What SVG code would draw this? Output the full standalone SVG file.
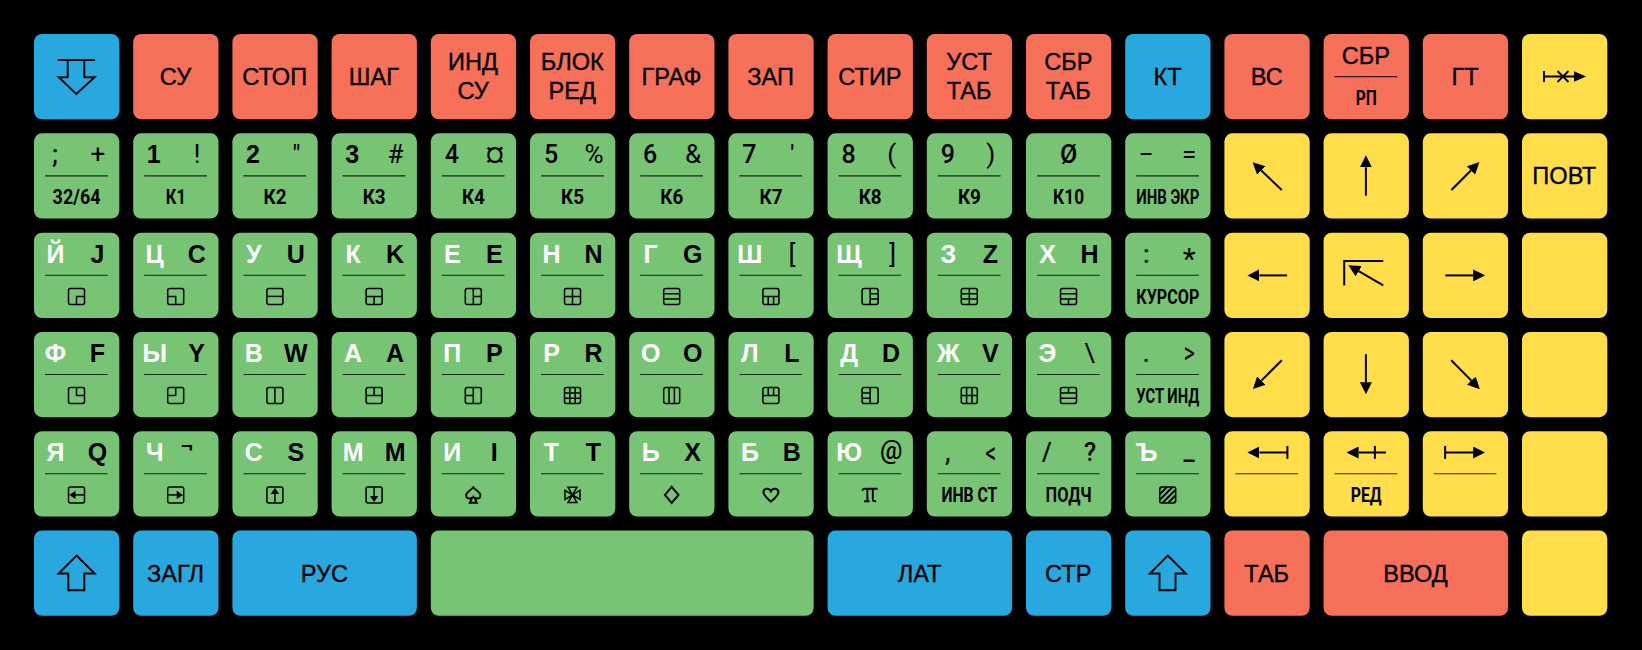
<svg xmlns="http://www.w3.org/2000/svg" width="1642" height="650" viewBox="0 0 1642 650">
<style>
text{text-anchor:middle;fill:#000}
.t{font:23.6px "Liberation Sans",Arial,sans-serif;stroke:#000;stroke-width:.35}
.l{font:700 25px "Liberation Sans",Arial,sans-serif}
.w{fill:#fff}
.d{font:500 25px Roboto,"Liberation Sans",sans-serif}
.s{font:400 26px Roboto,"Liberation Sans",sans-serif}
.v{font:400 30px Roboto,"Liberation Sans",sans-serif}
.c{font:700 19.5px Roboto,"Liberation Sans",sans-serif}
.B{fill:#29a8e0}.R{fill:#f6705a}.G{fill:#78c475}.Y{fill:#ffdd4b}
.i{fill:none;stroke:#000;stroke-width:1.5}
.j{fill:none;stroke:#000;stroke-width:1.9}
.a{fill:none;stroke:#000;stroke-width:2}
.h{marker-end:url(#head)}
</style>
<defs>
<marker id="head" markerUnits="userSpaceOnUse" markerWidth="12" markerHeight="12" refX="0" refY="6" orient="auto" viewBox="0 0 12 12"><path d="M0 0L12 6L0 12Z"/></marker>
<pattern id="hatch" patternUnits="userSpaceOnUse" width="4" height="4" patternTransform="rotate(45)"><rect width="2" height="4"/></pattern>
<rect id="kb" width="85.3" height="85.3" rx="8" class="B"/>
<rect id="kr" width="85.3" height="85.3" rx="8" class="R"/>
<rect id="kg" width="85.3" height="85.3" rx="8" class="G"/>
<rect id="ky" width="85.3" height="85.3" rx="8" class="Y"/>
<path id="dv" d="M11 42.6H73.7" fill="none" stroke="#000" stroke-opacity=".8" stroke-width="1.1"/>
<rect id="bx" x="34.5" y="55.7" width="16" height="16" rx="2" class="i"/>
<path id="up" class="j" d="M42.6 25L60.7 43H50.3V59.7H34.3V43H24.7Z"/>
</defs>
<rect width="1642" height="650" fill="#000"/>

<g id="row1">
<g id="k-down" transform="translate(34,34)"><use href="#kb"/><path class="j" d="M23.7 26H61M33.7 26V43.3H24.7L42.3 60L60.7 43.3H50.3V26"/></g>
<g id="k-su" transform="translate(133.2,34)"><use href="#kr"/><text class="t" x="42.3" y="51">СУ</text></g>
<g id="k-stop" transform="translate(232.4,34)"><use href="#kr"/><text class="t" x="42.3" y="51">СТОП</text></g>
<g id="k-shag" transform="translate(331.6,34)"><use href="#kr"/><text class="t" x="42.3" y="51">ШАГ</text></g>
<g id="k-indsu" transform="translate(430.8,34)"><use href="#kr"/><text class="t" x="42.3" y="36">ИНД</text><text class="t" x="42.3" y="65">СУ</text></g>
<g id="k-blok" transform="translate(530,34)"><use href="#kr"/><text class="t" x="42.3" y="36">БЛОК</text><text class="t" x="42.3" y="65">РЕД</text></g>
<g id="k-graf" transform="translate(629.2,34)"><use href="#kr"/><text class="t" x="42.3" y="51">ГРАФ</text></g>
<g id="k-zap" transform="translate(728.4,34)"><use href="#kr"/><text class="t" x="42.3" y="51">ЗАП</text></g>
<g id="k-stir" transform="translate(827.6,34)"><use href="#kr"/><text class="t" x="42.3" y="51">СТИР</text></g>
<g id="k-usttab" transform="translate(926.8,34)"><use href="#kr"/><text class="t" x="42.3" y="36">УСТ</text><text class="t" x="42.3" y="65">ТАБ</text></g>
<g id="k-sbrtab" transform="translate(1026,34)"><use href="#kr"/><text class="t" x="42.3" y="36">СБР</text><text class="t" x="42.3" y="65">ТАБ</text></g>
<g id="k-kt" transform="translate(1125.2,34)"><use href="#kb"/><text class="t" x="42.3" y="51">КТ</text></g>
<g id="k-vs" transform="translate(1224.4,34)"><use href="#kr"/><text class="t" x="42.3" y="51">ВС</text></g>
<g id="k-sbrrp" transform="translate(1323.6,34)"><use href="#kr"/><text class="t" x="42.3" y="30">СБР</text><use href="#dv"/><text class="c" x="42.6" y="71" textLength="21" lengthAdjust="spacingAndGlyphs">РП</text></g>
<g id="k-gt" transform="translate(1422.8,34)"><use href="#kr"/><text class="t" x="42.3" y="51">ГТ</text></g>
<g id="k-tabset" transform="translate(1522,34)"><use href="#ky"/><path class="j" d="M22 37V48M22 42.5H54M35.5 37L46.5 48M46.5 37L35.5 48"/><path d="M52 37.3L64 42.5L52 47.7Z"/></g>
</g>

<g id="row2">
<g id="k-semi" transform="translate(34,133.3)"><use href="#kg"/><text class="d" x="21" y="30">;</text><text class="s" x="64" y="30">+</text><use href="#dv"/><text class="c" x="42.6" y="71" textLength="48" lengthAdjust="spacingAndGlyphs">32/64</text></g>
<g id="k-1" transform="translate(133.2,133.3)"><use href="#kg"/><text class="l" x="20.5" y="30">1</text><text class="s" x="64" y="30">!</text><use href="#dv"/><text class="c" x="42.6" y="71" textLength="20" lengthAdjust="spacingAndGlyphs">К1</text></g>
<g id="k-2" transform="translate(232.4,133.3)"><use href="#kg"/><text class="l" x="20.5" y="30">2</text><text class="s" x="64" y="30" font-style="italic">″</text><use href="#dv"/><text class="c" x="42.6" y="71" textLength="23" lengthAdjust="spacingAndGlyphs">К2</text></g>
<g id="k-3" transform="translate(331.6,133.3)"><use href="#kg"/><text class="l" x="20.5" y="30">3</text><text class="s" x="64" y="30">#</text><use href="#dv"/><text class="c" x="42.6" y="71" textLength="23" lengthAdjust="spacingAndGlyphs">К3</text></g>
<g id="k-4" transform="translate(430.8,133.3)"><use href="#kg"/><text class="d" x="21" y="30">4</text><text class="s" x="64" y="30">¤</text><use href="#dv"/><text class="c" x="42.6" y="71" textLength="23" lengthAdjust="spacingAndGlyphs">К4</text></g>
<g id="k-5" transform="translate(530,133.3)"><use href="#kg"/><text class="d" x="21" y="30">5</text><text class="s" x="64" y="30">%</text><use href="#dv"/><text class="c" x="42.6" y="71" textLength="23" lengthAdjust="spacingAndGlyphs">К5</text></g>
<g id="k-6" transform="translate(629.2,133.3)"><use href="#kg"/><text class="d" x="21" y="30">6</text><text class="s" x="64" y="30">&amp;</text><use href="#dv"/><text class="c" x="42.6" y="71" textLength="23" lengthAdjust="spacingAndGlyphs">К6</text></g>
<g id="k-7" transform="translate(728.4,133.3)"><use href="#kg"/><text class="d" x="21" y="30">7</text><text class="s" x="64" y="30" font-style="italic">′</text><use href="#dv"/><text class="c" x="42.6" y="71" textLength="23" lengthAdjust="spacingAndGlyphs">К7</text></g>
<g id="k-8" transform="translate(827.6,133.3)"><use href="#kg"/><text class="d" x="21" y="30">8</text><text class="s" x="64" y="30">(</text><use href="#dv"/><text class="c" x="42.6" y="71" textLength="23" lengthAdjust="spacingAndGlyphs">К8</text></g>
<g id="k-9" transform="translate(926.8,133.3)"><use href="#kg"/><text class="d" x="21" y="30">9</text><text class="s" x="64" y="30">)</text><use href="#dv"/><text class="c" x="42.6" y="71" textLength="23" lengthAdjust="spacingAndGlyphs">К9</text></g>
<g id="k-0" transform="translate(1026,133.3)"><use href="#kg"/><text class="d" x="42.6" y="30">Ø</text><use href="#dv"/><text class="c" x="42.6" y="71" textLength="31" lengthAdjust="spacingAndGlyphs">К10</text></g>
<g id="k-minus" transform="translate(1125.2,133.3)"><use href="#kg"/><text class="s" x="21" y="30">−</text><text class="s" x="64" y="30">=</text><use href="#dv"/><text class="c" x="42.6" y="71" textLength="63" lengthAdjust="spacingAndGlyphs">ИНВ ЭКР</text></g>
<g id="k-nw" transform="translate(1224.4,133.3)"><use href="#ky"/><path class="a h" d="M57.4 56.7L36.9 37.2"/></g>
<g id="k-n" transform="translate(1323.6,133.3)"><use href="#ky"/><path class="a h" d="M42.3 62.4V34"/></g>
<g id="k-ne" transform="translate(1422.8,133.3)"><use href="#ky"/><path class="a h" d="M28.6 56.7L48.1 37.2"/></g>
<g id="k-povt" transform="translate(1522,133.3)"><use href="#ky"/><text class="t" x="42.3" y="51">ПОВТ</text></g>
</g>

<g id="row3">
<g id="k-j" transform="translate(34,232.7)"><use href="#kg"/><text class="l w" x="21.5" y="30.5">Й</text><text class="l" x="63.5" y="30.5">J</text><use href="#dv"/><use href="#bx"/><path class="i" d="M42.5 71.7V63.7H50.5"/></g>
<g id="k-c" transform="translate(133.2,232.7)"><use href="#kg"/><text class="l w" x="21.5" y="30.5">Ц</text><text class="l" x="63.5" y="30.5">C</text><use href="#dv"/><use href="#bx"/><path class="i" d="M42.5 71.7V63.7H34.5"/></g>
<g id="k-u" transform="translate(232.4,232.7)"><use href="#kg"/><text class="l w" x="21.5" y="30.5">У</text><text class="l" x="63.5" y="30.5">U</text><use href="#dv"/><use href="#bx"/><path class="i" d="M34.5 63.7H50.5"/></g>
<g id="k-k" transform="translate(331.6,232.7)"><use href="#kg"/><text class="l w" x="21.5" y="30.5">К</text><text class="l" x="63.5" y="30.5">K</text><use href="#dv"/><use href="#bx"/><path class="i" d="M34.5 63.7H50.5M42.5 63.7V71.7"/></g>
<g id="k-e" transform="translate(430.8,232.7)"><use href="#kg"/><text class="l w" x="21.5" y="30.5">Е</text><text class="l" x="63.5" y="30.5">E</text><use href="#dv"/><use href="#bx"/><path class="i" d="M42.5 55.7V71.7M42.5 63.7H50.5"/></g>
<g id="k-n2" transform="translate(530,232.7)"><use href="#kg"/><text class="l w" x="21.5" y="30.5">Н</text><text class="l" x="63.5" y="30.5">N</text><use href="#dv"/><use href="#bx"/><path class="i" d="M34.5 63.7H50.5M42.5 55.7V71.7"/></g>
<g id="k-g" transform="translate(629.2,232.7)"><use href="#kg"/><text class="l w" x="21.5" y="30.5">Г</text><text class="l" x="63.5" y="30.5">G</text><use href="#dv"/><use href="#bx"/><path class="i" d="M34.5 61H50.5M34.5 66.4H50.5"/></g>
<g id="k-lb" transform="translate(728.4,232.7)"><use href="#kg"/><text class="l w" x="21.5" y="30.5">Ш</text><text class="s" x="63.5" y="30.5">[</text><use href="#dv"/><use href="#bx"/><path class="i" d="M34.5 63.7H50.5M39.8 63.7V71.7M45.2 63.7V71.7"/></g>
<g id="k-rb" transform="translate(827.6,232.7)"><use href="#kg"/><text class="l w" x="21.5" y="30.5">Щ</text><text class="s" x="65" y="30.5">]</text><use href="#dv"/><use href="#bx"/><path class="i" d="M42.5 55.7V71.7M42.5 61H50.5M42.5 66.4H50.5"/></g>
<g id="k-z" transform="translate(926.8,232.7)"><use href="#kg"/><text class="l w" x="21.5" y="30.5">З</text><text class="l" x="63.5" y="30.5">Z</text><use href="#dv"/><use href="#bx"/><path class="i" d="M34.5 61H50.5M34.5 66.4H50.5M42.5 55.7V71.7"/></g>
<g id="k-h" transform="translate(1026,232.7)"><use href="#kg"/><text class="l w" x="21.5" y="30.5">Х</text><text class="l" x="63.5" y="30.5">H</text><use href="#dv"/><use href="#bx"/><path class="i" d="M34.5 61H50.5M34.5 66.4H50.5M42.5 66.4V71.7"/></g>
<g id="k-colon" transform="translate(1125.2,232.7)"><use href="#kg"/><text class="d" x="21" y="30">:</text><text class="v" x="64" y="36">*</text><use href="#dv"/><text class="c" x="42.6" y="71" textLength="63" lengthAdjust="spacingAndGlyphs">КУРСОР</text></g>
<g id="k-w" transform="translate(1224.4,232.7)"><use href="#ky"/><path class="a h" d="M62.7 42.7H35"/></g>
<g id="k-home" transform="translate(1323.6,232.7)"><use href="#ky"/><path class="a" d="M20.6 52.7V28.4H59.6"/><path d="M59.6 52.7L35.1 38.5" class="a h"/></g>
<g id="k-e2" transform="translate(1422.8,232.7)"><use href="#ky"/><path class="a h" d="M22.6 42.7H50.3"/></g>
<g id="k-y3" transform="translate(1522,232.7)"><use href="#ky"/></g>
</g>

<g id="row4">
<g id="k-f" transform="translate(34,331.9)"><use href="#kg"/><text class="l w" x="21.5" y="30.5">Ф</text><text class="l" x="63.5" y="30.5">F</text><use href="#dv"/><use href="#bx"/><path class="i" d="M42.5 55.7V63.7H50.5"/></g>
<g id="k-y" transform="translate(133.2,331.9)"><use href="#kg"/><text class="l w" x="21.5" y="30.5">Ы</text><text class="l" x="63.5" y="30.5">Y</text><use href="#dv"/><use href="#bx"/><path class="i" d="M42.5 55.7V63.7H34.5"/></g>
<g id="k-w2" transform="translate(232.4,331.9)"><use href="#kg"/><text class="l w" x="21.5" y="30.5">В</text><text class="l" x="63.5" y="30.5">W</text><use href="#dv"/><use href="#bx"/><path class="i" d="M42.5 55.7V71.7"/></g>
<g id="k-a" transform="translate(331.6,331.9)"><use href="#kg"/><text class="l w" x="21.5" y="30.5">А</text><text class="l" x="63.5" y="30.5">A</text><use href="#dv"/><use href="#bx"/><path class="i" d="M34.5 63.7H50.5M42.5 55.7V63.7"/></g>
<g id="k-p" transform="translate(430.8,331.9)"><use href="#kg"/><text class="l w" x="21.5" y="30.5">П</text><text class="l" x="63.5" y="30.5">P</text><use href="#dv"/><use href="#bx"/><path class="i" d="M42.5 55.7V71.7M34.5 63.7H42.5"/></g>
<g id="k-r" transform="translate(530,331.9)"><use href="#kg"/><text class="l w" x="21.5" y="30.5">Р</text><text class="l" x="63.5" y="30.5">R</text><use href="#dv"/><use href="#bx"/><path class="i" d="M34.5 61H50.5M34.5 66.4H50.5M39.8 55.7V71.7M45.2 55.7V71.7"/></g>
<g id="k-o" transform="translate(629.2,331.9)"><use href="#kg"/><text class="l w" x="21.5" y="30.5">О</text><text class="l" x="63.5" y="30.5">O</text><use href="#dv"/><use href="#bx"/><path class="i" d="M39.8 55.7V71.7M45.2 55.7V71.7"/></g>
<g id="k-l" transform="translate(728.4,331.9)"><use href="#kg"/><text class="l w" x="21.5" y="30.5">Л</text><text class="l" x="63.5" y="30.5">L</text><use href="#dv"/><use href="#bx"/><path class="i" d="M34.5 63.7H50.5M39.8 55.7V63.7M45.2 55.7V63.7"/></g>
<g id="k-d" transform="translate(827.6,331.9)"><use href="#kg"/><text class="l w" x="21.5" y="30.5">Д</text><text class="l" x="63.5" y="30.5">D</text><use href="#dv"/><use href="#bx"/><path class="i" d="M42.5 55.7V71.7M34.5 61H42.5M34.5 66.4H42.5"/></g>
<g id="k-v" transform="translate(926.8,331.9)"><use href="#kg"/><text class="l w" x="21.5" y="30.5">Ж</text><text class="l" x="63.5" y="30.5">V</text><use href="#dv"/><use href="#bx"/><path class="i" d="M39.8 55.7V71.7M45.2 55.7V71.7M34.5 63.7H50.5"/></g>
<g id="k-bs" transform="translate(1026,331.9)"><use href="#kg"/><text class="l w" x="21.5" y="30.5">Э</text><text class="s" x="63.5" y="30.5">\</text><use href="#dv"/><use href="#bx"/><path class="i" d="M34.5 61H50.5M34.5 66.4H50.5M42.5 55.7V61"/></g>
<g id="k-dot" transform="translate(1125.2,331.9)"><use href="#kg"/><text class="d" x="21" y="30">.</text><text class="v" x="64" y="31.5" textLength="11" lengthAdjust="spacingAndGlyphs">&gt;</text><use href="#dv"/><text class="c" x="42.6" y="71" textLength="63" lengthAdjust="spacingAndGlyphs">УСТ ИНД</text></g>
<g id="k-sw" transform="translate(1224.4,331.9)"><use href="#ky"/><path class="a h" d="M57.4 28.3L37 48.7"/></g>
<g id="k-s" transform="translate(1323.6,331.9)"><use href="#ky"/><path class="a h" d="M42.3 22.3V50.3"/></g>
<g id="k-se" transform="translate(1422.8,331.9)"><use href="#ky"/><path class="a h" d="M28.4 28.3L48.6 48.7"/></g>
<g id="k-y4" transform="translate(1522,331.9)"><use href="#ky"/></g>
</g>

<g id="row5">
<g id="k-q" transform="translate(34,431.2)"><use href="#kg"/><text class="l w" x="21.5" y="30">Я</text><text class="l" x="63.5" y="30">Q</text><use href="#dv"/><use href="#bx"/><path class="i" d="M38 63.7H50.5"/><path d="M35.3 63.7L41.5 59.5V67.9Z"/></g>
<g id="k-not" transform="translate(133.2,431.2)"><use href="#kg"/><text class="l w" x="21.5" y="30">Ч</text><text class="d" x="54" y="24">¬</text><use href="#dv"/><use href="#bx"/><path class="i" d="M34.5 63.7H47"/><path d="M49.7 63.7L43.5 59.5V67.9Z"/></g>
<g id="k-s2" transform="translate(232.4,431.2)"><use href="#kg"/><text class="l w" x="21.5" y="30">С</text><text class="l" x="63.5" y="30">S</text><use href="#dv"/><use href="#bx"/><path class="i" d="M42.5 59V71.7"/><path d="M42.5 56.5L38.3 62.7H46.7Z"/></g>
<g id="k-m" transform="translate(331.6,431.2)"><use href="#kg"/><text class="l w" x="21.5" y="30">М</text><text class="l" x="63.5" y="30">M</text><use href="#dv"/><use href="#bx"/><path class="i" d="M42.5 55.7V68"/><path d="M42.5 70.9L38.3 64.7H46.7Z"/></g>
<g id="k-i" transform="translate(430.8,431.2)"><use href="#kg"/><text class="l w" x="21.5" y="30">И</text><text class="l" x="63.5" y="30">I</text><use href="#dv"/><path class="j" d="M42.5 56C39.5 60 35.3 60.8 35.3 64.5C35.3 67.2 38.5 68.2 41.5 66.5L39 71.5H46L43.5 66.5C46.5 68.2 49.7 67.2 49.7 64.5C49.7 60.8 45.5 60 42.5 56Z"/></g>
<g id="k-t" transform="translate(530,431.2)"><use href="#kg"/><text class="l w" x="21.5" y="30">Т</text><text class="l" x="63.5" y="30">T</text><use href="#dv"/><path class="i" d="M38 56H47L42.5 63.7ZM38 71.4H47L42.5 63.7ZM35 59.2V68.2L42.5 63.7ZM50 59.2V68.2L42.5 63.7Z"/></g>
<g id="k-x" transform="translate(629.2,431.2)"><use href="#kg"/><text class="l w" x="21.5" y="30">Ь</text><text class="l" x="63.5" y="30">X</text><use href="#dv"/><path class="a" d="M42.5 55.7L49.3 63.7L42.5 71.7L35.7 63.7Z"/></g>
<g id="k-b" transform="translate(728.4,431.2)"><use href="#kg"/><text class="l w" x="21.5" y="30">Б</text><text class="l" x="63.5" y="30">B</text><use href="#dv"/><path class="a" d="M42.5 70.5C38 66.5 35 64 35 61C35 57 40.5 56 42.5 60C44.5 56 50 57 50 61C50 64 47 66.5 42.5 70.5Z"/></g>
<g id="k-at" transform="translate(827.6,431.2)"><use href="#kg"/><text class="d" x="21.5" y="30" fill="#fff" style="fill:#fff;font-weight:700;font-family:'Liberation Sans'">Ю</text><text class="d" x="63.5" y="28">@</text><use href="#dv"/><path class="j" d="M35 59.5C35 57.5 36 57.5 38 57.5H50M39.8 57.5V70M45.2 57.5V68C45.2 70 46 70 48.5 70M36.5 70H42"/></g>
<g id="k-comma" transform="translate(926.8,431.2)"><use href="#kg"/><text class="d" x="21" y="30">,</text><text class="v" x="64" y="31.5" textLength="11" lengthAdjust="spacingAndGlyphs">&lt;</text><use href="#dv"/><text class="c" x="42.6" y="71" textLength="56" lengthAdjust="spacingAndGlyphs">ИНВ СТ</text></g>
<g id="k-slash" transform="translate(1026,431.2)"><use href="#kg"/><text class="d" x="21" y="30">/</text><text class="d" x="64" y="30">?</text><use href="#dv"/><text class="c" x="42.6" y="71" textLength="46" lengthAdjust="spacingAndGlyphs">ПОДЧ</text></g>
<g id="k-under" transform="translate(1125.2,431.2)"><use href="#kg"/><text class="l w" x="21.5" y="30">Ъ</text><text class="d" x="64" y="29">_</text><use href="#dv"/><rect x="34.5" y="55.7" width="16" height="16" rx="2" fill="url(#hatch)" stroke="#000" stroke-width="1.5"/></g>
<g id="k-tabl" transform="translate(1224.4,431.2)"><use href="#ky"/><path class="a" d="M63 14.7V27.7"/><path class="a h" d="M63 21.3H35"/><use href="#dv"/></g>
<g id="k-red" transform="translate(1323.6,431.2)"><use href="#ky"/><path class="a" d="M51.3 14.7V27.7"/><path class="a h" d="M62.3 21.3H35"/><use href="#dv"/><text class="c" x="42.6" y="71" textLength="31" lengthAdjust="spacingAndGlyphs">РЕД</text></g>
<g id="k-tabr" transform="translate(1422.8,431.2)"><use href="#ky"/><path class="a" d="M22.3 14.7V27.7"/><path class="a h" d="M22.3 21.3H50.3"/><use href="#dv"/></g>
<g id="k-y5" transform="translate(1522,431.2)"><use href="#ky"/></g>
</g>

<g id="row6">
<g id="k-shl" transform="translate(34,530.5)"><use href="#kb"/><use href="#up"/></g>
<g id="k-zagl" transform="translate(133.2,530.5)"><use href="#kb"/><text class="t" x="42.3" y="51">ЗАГЛ</text></g>
<g id="k-rus" transform="translate(232.4,530.5)"><rect width="184.5" height="85.3" rx="8" class="B"/><text class="t" x="92" y="51">РУС</text></g>
<g id="k-space" transform="translate(430.8,530.5)"><rect width="382.9" height="85.3" rx="8" class="G"/></g>
<g id="k-lat" transform="translate(827.6,530.5)"><rect width="184.5" height="85.3" rx="8" class="B"/><text class="t" x="92" y="51">ЛАТ</text></g>
<g id="k-str" transform="translate(1026,530.5)"><use href="#kb"/><text class="t" x="42.3" y="51">СТР</text></g>
<g id="k-shr" transform="translate(1125.2,530.5)"><use href="#kb"/><use href="#up"/></g>
<g id="k-tab" transform="translate(1224.4,530.5)"><use href="#kr"/><text class="t" x="42.3" y="51">ТАБ</text></g>
<g id="k-vvod" transform="translate(1323.6,530.5)"><rect width="184.5" height="85.3" rx="8" class="R"/><text class="t" x="92" y="51">ВВОД</text></g>
<g id="k-y6" transform="translate(1522,530.5)"><use href="#ky"/></g>
</g>
</svg>
